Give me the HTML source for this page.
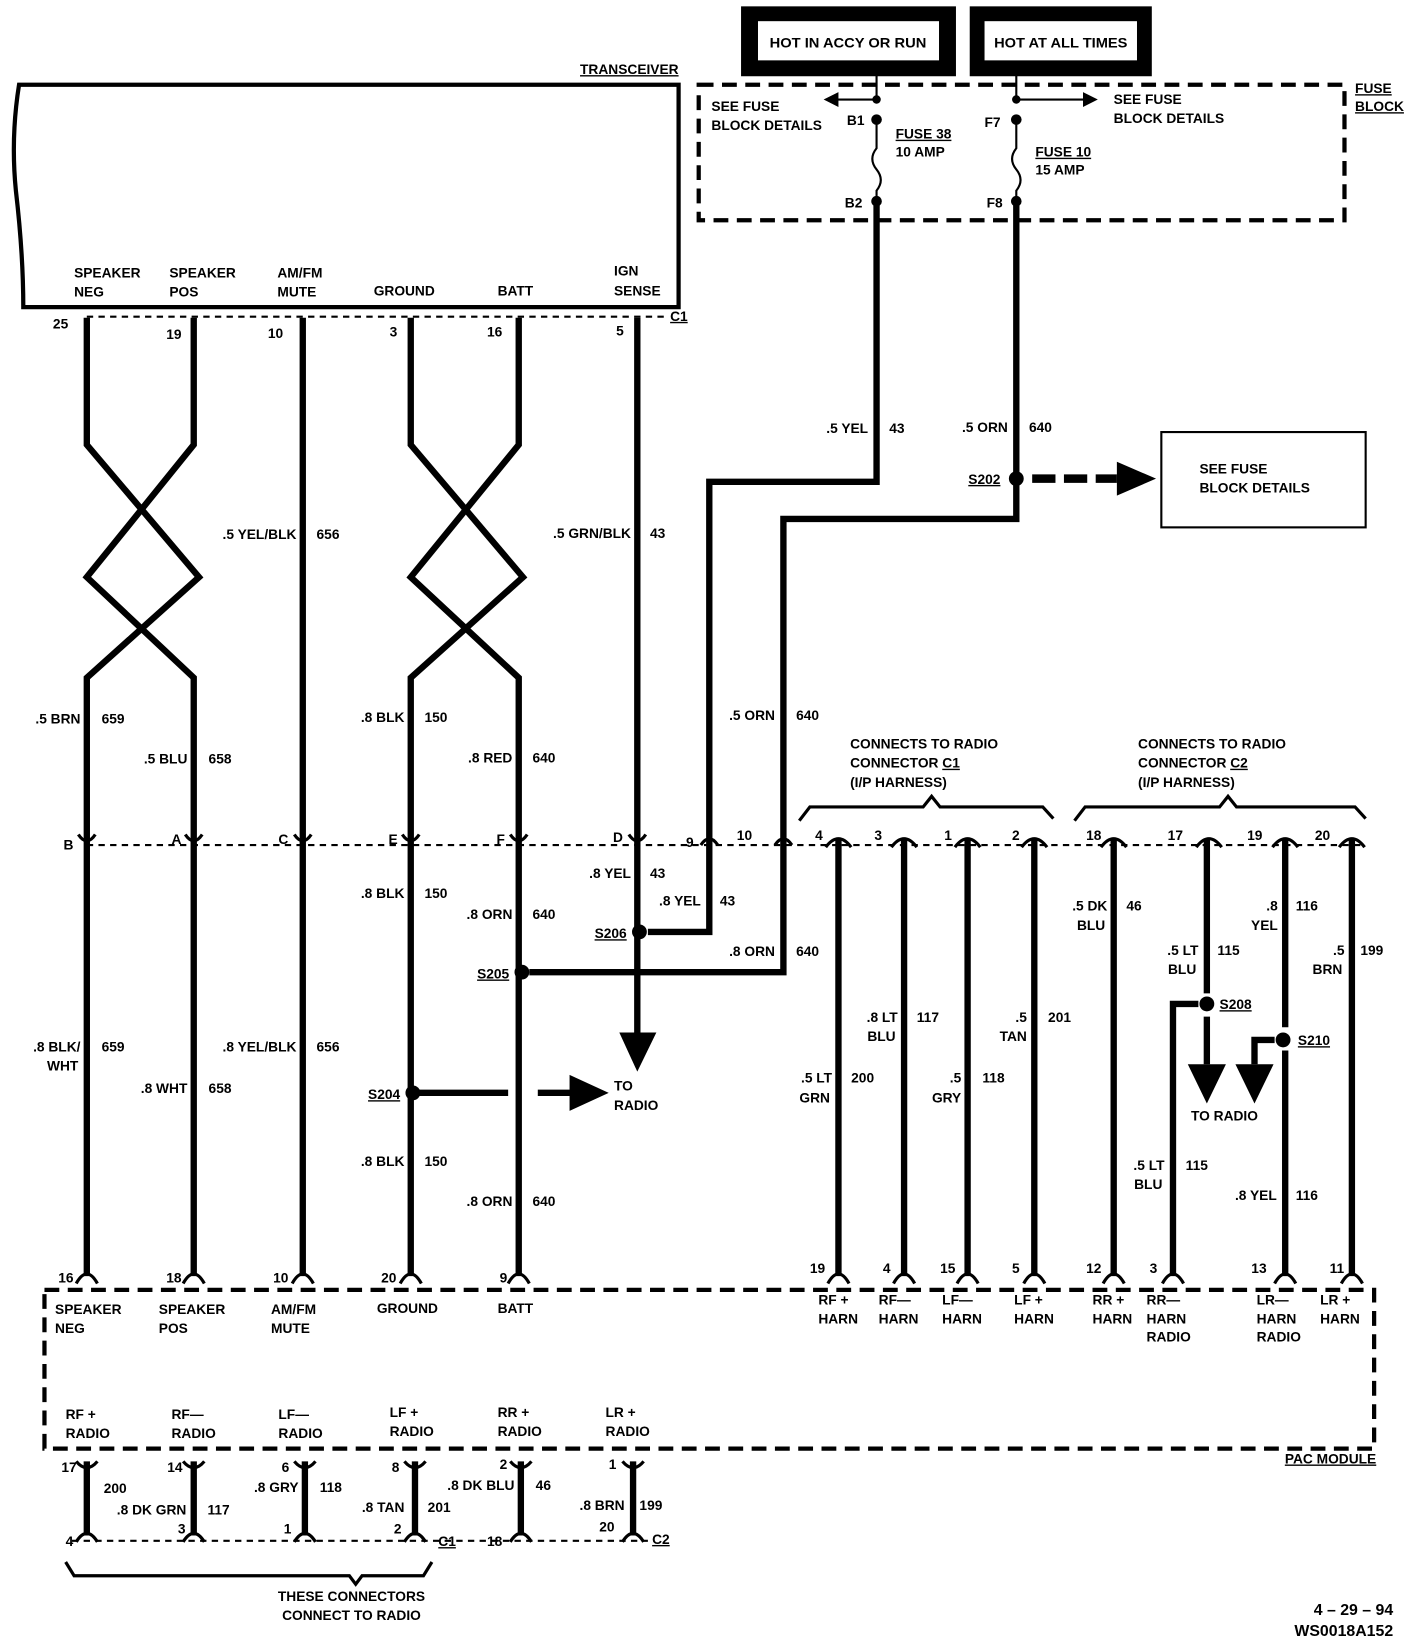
<!DOCTYPE html>
<html><head><meta charset="utf-8"><style>
html,body{margin:0;padding:0;background:#fff;}
svg{display:block;}
text{font-family:"Liberation Sans",sans-serif;font-weight:bold;font-size:13px;fill:#000;}
.r{text-anchor:end;}
.m{text-anchor:middle;}
.w{stroke:#000;stroke-width:6;fill:none;}
.t{stroke:#000;stroke-width:2;fill:none;}
.d{stroke:#000;stroke-width:2;fill:none;stroke-dasharray:6 5;}
.D{stroke:#000;stroke-width:4;fill:none;stroke-dasharray:14 8;}
.c{stroke:#000;stroke-width:3;fill:none;}
</style></head><body>
<svg width="1408" height="1652" viewBox="0 0 1330 1560" preserveAspectRatio="none">
<!-- top boxes -->
<rect x="700" y="6" width="203" height="66" fill="#000"/>
<rect x="716" y="20" width="171" height="37" fill="#fff"/>
<text x="801" y="45" class="m" textLength="148" lengthAdjust="spacingAndGlyphs">HOT IN ACCY OR RUN</text>
<rect x="916" y="6" width="172" height="66" fill="#000"/>
<rect x="930" y="20" width="144" height="37" fill="#fff"/>
<text x="1002" y="45" class="m" textLength="126" lengthAdjust="spacingAndGlyphs">HOT AT ALL TIMES</text>

<!-- transceiver -->
<text x="641" y="70" class="r" style="text-decoration:underline">TRANSCEIVER</text>
<path d="M18,80 Q10,130 15,180 Q22,240 22,290 L641,290 L641,80 Z" class="c" style="stroke-width:4"/>
<text x="70" y="262">SPEAKER</text><text x="70" y="280">NEG</text>
<text x="160" y="262">SPEAKER</text><text x="160" y="280">POS</text>
<text x="262" y="262">AM/FM</text><text x="262" y="280">MUTE</text>
<text x="353" y="279">GROUND</text>
<text x="470" y="279">BATT</text>
<text x="580" y="260">IGN</text><text x="580" y="279">SENSE</text>
<line x1="82" y1="299" x2="630" y2="299" class="d"/>
<text x="633" y="303" style="text-decoration:underline">C1</text>
<text x="50" y="310">25</text><text x="157" y="320">19</text><text x="253" y="319">10</text>
<text x="368" y="318">3</text><text x="460" y="318">16</text><text x="582" y="317">5</text>

<!-- fuse block -->
<rect x="660" y="80" width="610" height="128" class="D"/>
<text x="1280" y="88" style="text-decoration:underline">FUSE</text>
<text x="1280" y="105" style="text-decoration:underline">BLOCK</text>
<text x="672" y="105">SEE FUSE</text><text x="672" y="123">BLOCK DETAILS</text>
<text x="1052" y="98">SEE FUSE</text><text x="1052" y="116">BLOCK DETAILS</text>
<line x1="828" y1="70" x2="828" y2="95" class="t"/>
<line x1="828" y1="94" x2="790" y2="94" class="t"/><path d="M778,94 L792,87 L792,101 Z"/>
<circle cx="828" cy="94" r="4"/><circle cx="828" cy="113" r="5"/>
<path d="M828,113 L828,140 Q820,150 828,160 Q836,170 828,180 L828,190" class="t"/>
<circle cx="828" cy="190" r="5"/>
<text x="800" y="118">B1</text><text x="798" y="196">B2</text>
<text x="846" y="131" style="text-decoration:underline">FUSE 38</text><text x="846" y="148">10 AMP</text>
<line x1="960" y1="70" x2="960" y2="95" class="t"/>
<line x1="960" y1="94" x2="1025" y2="94" class="t"/><path d="M1037,94 L1023,87 L1023,101 Z"/>
<circle cx="960" cy="94" r="4"/><circle cx="960" cy="113" r="5"/>
<path d="M960,113 L960,140 Q952,150 960,160 Q968,170 960,180 L960,190" class="t"/>
<circle cx="960" cy="190" r="5"/>
<text x="930" y="120">F7</text><text x="932" y="196">F8</text>
<text x="978" y="148" style="text-decoration:underline">FUSE 10</text><text x="978" y="165">15 AMP</text>

<!-- right box -->
<rect x="1097" y="408" width="193" height="90" class="t"/>
<text x="1133" y="447">SEE FUSE</text><text x="1133" y="465">BLOCK DETAILS</text>
<circle cx="960" cy="452" r="7"/>
<line x1="975" y1="452" x2="1055" y2="452" stroke="#000" stroke-width="8" stroke-dasharray="22 8"/>
<path d="M1092,452 L1055,436 L1055,468 Z"/>
<text x="945" y="457" class="r" style="text-decoration:underline">S202</text>

<!-- fuse wires -->
<polyline points="828,190 828,455 670,455 670,880 612,880" class="w"/>
<polyline points="960,190 960,490 740,490 740,918 500,918" class="w"/>

<!-- left wires -->
<polyline points="82,300 82,420 188,545 82,640 82,1205" class="w"/>
<polyline points="183,300 183,420 82,545 183,640 183,1205" class="w"/>
<polyline points="286,300 286,1205" class="w"/>
<polyline points="388,300 388,420 494,545 388,640 388,1205" class="w"/>
<polyline points="490,300 490,420 388,545 490,640 490,1205" class="w"/>
<line x1="602" y1="300" x2="602" y2="975" class="w"/>
<path d="M585,975 L620,975 L602,1012 Z"/>
<circle cx="604" cy="880" r="7"/><circle cx="493" cy="918" r="7"/>
<text x="592" y="886" class="r" style="text-decoration:underline">S206</text>
<text x="481" y="924" class="r" style="text-decoration:underline">S205</text>
<circle cx="390" cy="1032" r="7"/>
<line x1="395" y1="1032" x2="480" y2="1032" class="w"/>
<line x1="508" y1="1032" x2="540" y2="1032" class="w"/>
<path d="M575,1032 L538,1015 L538,1049 Z"/>
<text x="580" y="1030">TO</text><text x="580" y="1048">RADIO</text>
<text x="378" y="1038" class="r" style="text-decoration:underline">S204</text>

<!-- mid connector row -->
<line x1="82" y1="798" x2="795" y2="798" class="d"/>
<g class="c">
<path d="M74,788 Q82,800 90,788"/><path d="M175,788 Q183,800 191,788"/><path d="M278,788 Q286,800 294,788"/>
<path d="M380,788 Q388,800 396,788"/><path d="M482,788 Q490,800 498,788"/><path d="M594,788 Q602,800 610,788"/>
<path d="M662,798 Q670,786 678,798"/><path d="M732,798 Q740,786 748,798"/>
</g>
<text x="60" y="802">B</text><text x="162" y="797">A</text><text x="263" y="797">C</text>
<text x="367" y="797">E</text><text x="469" y="797">F</text><text x="579" y="795">D</text>
<text x="648" y="800">9</text><text x="696" y="793">10</text>

<!-- wire labels left -->
<text x="76" y="683" class="r">.5 BRN</text><text x="96" y="683">659</text>
<text x="76" y="993" class="r">.8 BLK/</text><text x="74" y="1011" class="r">WHT</text><text x="96" y="993">659</text>
<text x="177" y="721" class="r">.5 BLU</text><text x="197" y="721">658</text>
<text x="177" y="1032" class="r">.8 WHT</text><text x="197" y="1032">658</text>
<text x="280" y="509" class="r">.5 YEL/BLK</text><text x="299" y="509">656</text>
<text x="280" y="993" class="r">.8 YEL/BLK</text><text x="299" y="993">656</text>
<text x="382" y="682" class="r">.8 BLK</text><text x="401" y="682">150</text>
<text x="382" y="848" class="r">.8 BLK</text><text x="401" y="848">150</text>
<text x="382" y="1101" class="r">.8 BLK</text><text x="401" y="1101">150</text>
<text x="484" y="720" class="r">.8 RED</text><text x="503" y="720">640</text>
<text x="484" y="868" class="r">.8 ORN</text><text x="503" y="868">640</text>
<text x="484" y="1139" class="r">.8 ORN</text><text x="503" y="1139">640</text>
<text x="596" y="508" class="r">.5 GRN/BLK</text><text x="614" y="508">43</text>
<text x="596" y="829" class="r">.8 YEL</text><text x="614" y="829">43</text>
<text x="662" y="855" class="r">.8 YEL</text><text x="680" y="855">43</text>
<text x="732" y="680" class="r">.5 ORN</text><text x="752" y="680">640</text>
<text x="732" y="903" class="r">.8 ORN</text><text x="752" y="903">640</text>
<text x="820" y="409" class="r">.5 YEL</text><text x="840" y="409">43</text>
<text x="952" y="408" class="r">.5 ORN</text><text x="972" y="408">640</text>

<!-- right connectors -->
<text x="803" y="707">CONNECTS TO RADIO</text><text x="803" y="725">CONNECTOR <tspan text-decoration="underline">C1</tspan></text><text x="803" y="743">(I/P HARNESS)</text>
<text x="1075" y="707">CONNECTS TO RADIO</text><text x="1075" y="725">CONNECTOR <tspan text-decoration="underline">C2</tspan></text><text x="1075" y="743">(I/P HARNESS)</text>
<polyline points="755,775 765,762 872,762 880,752 888,762 985,762 995,773" class="c"/>
<polyline points="1015,775 1025,762 1152,762 1160,752 1168,762 1280,762 1290,773" class="c"/>
<line x1="795" y1="798" x2="1285" y2="798" class="d"/>
<text x="770" y="793">4</text><text x="826" y="793">3</text><text x="892" y="793">1</text><text x="956" y="793">2</text>
<text x="1026" y="793">18</text><text x="1103" y="793">17</text><text x="1178" y="793">19</text><text x="1242" y="793">20</text>
<g class="c">
<path d="M780,800 Q792,784 804,800"/><path d="M842,800 Q854,784 866,800"/><path d="M902,800 Q914,784 926,800"/><path d="M965,800 Q977,784 989,800"/>
<path d="M1040,800 Q1052,784 1064,800"/><path d="M1130,800 Q1142,784 1154,800"/><path d="M1202,800 Q1214,784 1226,800"/><path d="M1265,800 Q1277,784 1289,800"/>
</g>
<line x1="792" y1="792" x2="792" y2="1205" class="w"/>
<line x1="854" y1="792" x2="854" y2="1205" class="w"/>
<line x1="914" y1="792" x2="914" y2="1205" class="w"/>
<line x1="977" y1="792" x2="977" y2="1205" class="w"/>
<line x1="1052" y1="792" x2="1052" y2="1205" class="w"/>
<line x1="1140" y1="792" x2="1140" y2="938" class="w"/>
<line x1="1214" y1="792" x2="1214" y2="970" class="w"/>
<line x1="1214" y1="992" x2="1214" y2="1205" class="w"/>
<line x1="1277" y1="792" x2="1277" y2="1205" class="w"/>
<circle cx="1140" cy="948" r="7"/>
<polyline points="1132,948 1108,948 1108,1205" class="w"/>
<line x1="1140" y1="960" x2="1140" y2="1005" class="w"/>
<path d="M1122,1005 L1158,1005 L1140,1042 Z"/>
<text x="1152" y="953" style="text-decoration:underline">S208</text>
<circle cx="1212" cy="982" r="7"/>
<polyline points="1204,982 1185,982 1185,1005" class="w"/>
<path d="M1167,1005 L1203,1005 L1185,1042 Z"/>
<text x="1226" y="987" style="text-decoration:underline">S210</text>
<text x="1125" y="1058">TO RADIO</text>
<text x="786" y="1022" class="r">.5 LT</text><text x="784" y="1041" class="r">GRN</text><text x="804" y="1022">200</text>
<text x="848" y="965" class="r">.8 LT</text><text x="846" y="983" class="r">BLU</text><text x="866" y="965">117</text>
<text x="908" y="1022" class="r">.5</text><text x="908" y="1041" class="r">GRY</text><text x="928" y="1022">118</text>
<text x="970" y="965" class="r">.5</text><text x="970" y="983" class="r">TAN</text><text x="990" y="965">201</text>
<text x="1046" y="860" class="r">.5 DK</text><text x="1044" y="878" class="r">BLU</text><text x="1064" y="860">46</text>
<text x="1132" y="902" class="r">.5 LT</text><text x="1130" y="920" class="r">BLU</text><text x="1150" y="902">115</text>
<text x="1207" y="860" class="r">.8</text><text x="1207" y="878" class="r">YEL</text><text x="1224" y="860">116</text>
<text x="1270" y="902" class="r">.5</text><text x="1268" y="920" class="r">BRN</text><text x="1285" y="902">199</text>
<text x="1100" y="1105" class="r">.5 LT</text><text x="1098" y="1123" class="r">BLU</text><text x="1120" y="1105">115</text>
<text x="1206" y="1133" class="r">.8 YEL</text><text x="1224" y="1133">116</text>

<!-- PAC module -->
<g class="c">
<path d="M72,1212 Q82,1194 92,1212"/><path d="M173,1212 Q183,1194 193,1212"/><path d="M276,1212 Q286,1194 296,1212"/>
<path d="M378,1212 Q388,1194 398,1212"/><path d="M480,1212 Q490,1194 500,1212"/>
<path d="M782,1212 Q792,1194 802,1212"/><path d="M844,1212 Q854,1194 864,1212"/><path d="M904,1212 Q914,1194 924,1212"/><path d="M967,1212 Q977,1194 987,1212"/>
<path d="M1042,1212 Q1052,1194 1062,1212"/><path d="M1098,1212 Q1108,1194 1118,1212"/><path d="M1204,1212 Q1214,1194 1224,1212"/><path d="M1267,1212 Q1277,1194 1287,1212"/>
</g>
<text x="55" y="1211">16</text><text x="157" y="1211">18</text><text x="258" y="1211">10</text><text x="360" y="1211">20</text><text x="472" y="1211">9</text>
<text x="765" y="1202">19</text><text x="834" y="1202">4</text><text x="888" y="1202">15</text><text x="956" y="1202">5</text>
<text x="1026" y="1202">12</text><text x="1086" y="1202">3</text><text x="1182" y="1202">13</text><text x="1256" y="1202">11</text>
<rect x="42" y="1218" width="1256" height="150" class="D"/>
<text x="52" y="1241">SPEAKER</text><text x="52" y="1259">NEG</text>
<text x="150" y="1241">SPEAKER</text><text x="150" y="1259">POS</text>
<text x="256" y="1241">AM/FM</text><text x="256" y="1259">MUTE</text>
<text x="356" y="1240">GROUND</text><text x="470" y="1240">BATT</text>
<text x="773" y="1232">RF +</text><text x="773" y="1250">HARN</text>
<text x="830" y="1232">RF—</text><text x="830" y="1250">HARN</text>
<text x="890" y="1232">LF—</text><text x="890" y="1250">HARN</text>
<text x="958" y="1232">LF +</text><text x="958" y="1250">HARN</text>
<text x="1032" y="1232">RR +</text><text x="1032" y="1250">HARN</text>
<text x="1083" y="1232">RR—</text><text x="1083" y="1250">HARN</text><text x="1083" y="1267">RADIO</text>
<text x="1187" y="1232">LR—</text><text x="1187" y="1250">HARN</text><text x="1187" y="1267">RADIO</text>
<text x="1247" y="1232">LR +</text><text x="1247" y="1250">HARN</text>
<text x="62" y="1340">RF +</text><text x="62" y="1358">RADIO</text>
<text x="162" y="1340">RF—</text><text x="162" y="1358">RADIO</text>
<text x="263" y="1340">LF—</text><text x="263" y="1358">RADIO</text>
<text x="368" y="1338">LF +</text><text x="368" y="1356">RADIO</text>
<text x="470" y="1338">RR +</text><text x="470" y="1356">RADIO</text>
<text x="572" y="1338">LR +</text><text x="572" y="1356">RADIO</text>
<text x="1300" y="1382" class="r" style="text-decoration:underline">PAC MODULE</text>

<!-- bottom wires -->
<g class="c">
<path d="M72,1380 Q82,1392 92,1380"/><path d="M173,1380 Q183,1392 193,1380"/><path d="M278,1380 Q288,1392 298,1380"/>
<path d="M382,1380 Q392,1392 402,1380"/><path d="M482,1380 Q492,1392 502,1380"/><path d="M588,1380 Q598,1392 608,1380"/>
<path d="M72,1456 Q82,1440 92,1456"/><path d="M173,1456 Q183,1440 193,1456"/><path d="M278,1456 Q288,1440 298,1456"/>
<path d="M382,1456 Q392,1440 402,1456"/><path d="M482,1456 Q492,1440 502,1456"/><path d="M588,1456 Q598,1440 608,1456"/>
</g>
<line x1="82" y1="1380" x2="82" y2="1450" class="w"/>
<line x1="183" y1="1380" x2="183" y2="1450" class="w"/>
<line x1="288" y1="1380" x2="288" y2="1450" class="w"/>
<line x1="392" y1="1380" x2="392" y2="1450" class="w"/>
<line x1="492" y1="1380" x2="492" y2="1450" class="w"/>
<line x1="598" y1="1380" x2="598" y2="1450" class="w"/>
<line x1="68" y1="1455" x2="612" y2="1455" class="d"/>
<text x="58" y="1390">17</text><text x="158" y="1390">14</text><text x="266" y="1390">6</text>
<text x="370" y="1390">8</text><text x="472" y="1387">2</text><text x="575" y="1387">1</text>
<text x="98" y="1410">200</text><text x="176" y="1430" class="r">.8 DK GRN</text><text x="196" y="1430">117</text>
<text x="282" y="1409" class="r">.8 GRY</text><text x="302" y="1409">118</text>
<text x="382" y="1428" class="r">.8 TAN</text><text x="404" y="1428">201</text>
<text x="486" y="1407" class="r">.8 DK BLU</text><text x="506" y="1407">46</text>
<text x="590" y="1426" class="r">.8 BRN</text><text x="604" y="1426">199</text>
<text x="62" y="1460">4</text><text x="168" y="1448">3</text><text x="268" y="1448">1</text><text x="372" y="1448">2</text>
<text x="460" y="1460">18</text><text x="566" y="1446">20</text>
<text x="414" y="1460" style="text-decoration:underline">C1</text>
<text x="616" y="1458" style="text-decoration:underline">C2</text>
<polyline points="62,1475 70,1488 330,1488 336,1496 342,1488 400,1488 408,1475" class="c"/>
<text x="332" y="1512" class="m">THESE CONNECTORS</text>
<text x="332" y="1530" class="m">CONNECT TO RADIO</text>
<text x="1316" y="1525" class="r" style="font-size:15px">4 – 29 – 94</text>
<text x="1316" y="1545" class="r" style="font-size:15px">WS0018A152</text>
</svg>
</body></html>
